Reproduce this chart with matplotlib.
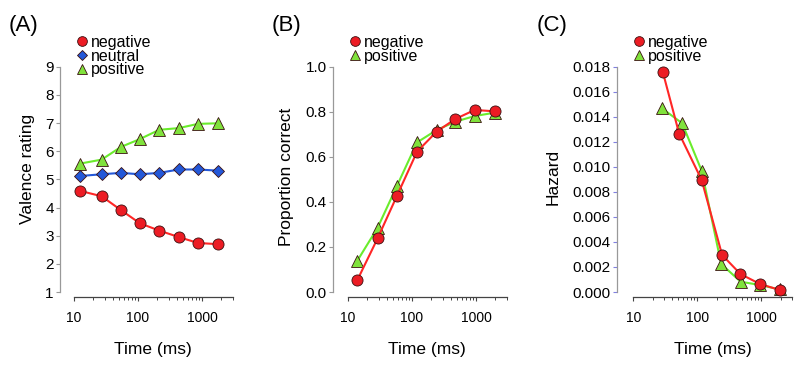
import matplotlib.pyplot as plt
import numpy as np
from matplotlib.lines import Line2D

plt.rcParams['font.family'] = ['Liberation Sans', 'DejaVu Sans']

W, H = 800, 366

red = '#ec1c24'
red_line = '#ff2626'
green = '#80e23c'
green_line = '#6aec2c'
blue = '#2458d8'
edge = '#3a1010'

# (A) valence rating
t_val = [12.5, 27, 54, 107, 215, 435, 865, 1750]
val_neg = [4.59, 4.40, 3.91, 3.44, 3.18, 2.95, 2.74, 2.70]
val_neu = [5.12, 5.18, 5.23, 5.18, 5.23, 5.35, 5.35, 5.31]
val_pos = [5.56, 5.70, 6.15, 6.43, 6.76, 6.82, 6.97, 6.99]

# (B) proportion correct
t_acc = [14, 29, 58, 120, 243, 475, 955, 1960]
acc_neg = [0.053, 0.238, 0.426, 0.623, 0.712, 0.768, 0.808, 0.802]
acc_pos = [0.139, 0.285, 0.470, 0.664, 0.719, 0.756, 0.781, 0.796]

# (C) hazard
t_haz_neg = [29, 52, 117, 244, 471, 955, 1940]
haz_neg = [0.01755, 0.01266, 0.00895, 0.00296, 0.00144, 0.00064, 0.00016]
t_haz_pos = [28, 58, 117, 236, 476, 955, 1940]
haz_pos = [0.01468, 0.01348, 0.00969, 0.00224, 0.00082, 0.00056, 0.0002]

x_major = [10, 100, 1000]
x_minor = [20, 30, 40, 50, 60, 70, 80, 90,
           200, 300, 400, 500, 600, 700, 800, 900, 2000, 3000]

fig = plt.figure(figsize=(W / 100, H / 100), dpi=100)


def panel(box, x10, ypx, yrange, yticks, yfmt, ylabel, ylab_xy, letter, letter_x, ytick_col):
    L, T, R, B = box
    ax = fig.add_axes([L / W, 1 - B / H, (R - L) / W, (B - T) / H])
    dec = 64.0
    ax.set_xscale('log')
    ax.set_xlim(10 ** (1 + (L - x10) / dec), 10 ** (1 + (R - x10) / dec))
    ylo, yhi = yrange
    sc = (ypx[0] - ypx[1]) / (yhi - ylo)
    ax.set_ylim(ylo - (B - ypx[0]) / sc, yhi + (ypx[1] - T) / sc)

    for s in ['top', 'right']:
        ax.spines[s].set_visible(False)
    ax.spines['left'].set_bounds(ylo, yhi)
    ax.spines['bottom'].set_bounds(10, 3000)
    ax.spines['left'].set_color('#999999')
    ax.spines['bottom'].set_color('#444444')
    ax.spines['left'].set_linewidth(0.9)
    ax.spines['bottom'].set_linewidth(0.9)

    ax.set_xticks(x_major)
    ax.set_xticklabels([str(v) for v in x_major])
    ax.set_xticks(x_minor, minor=True)
    ax.set_xticklabels([], minor=True)
    ax.tick_params(axis='x', which='major', length=3, width=0.8, color='#444444',
                   pad=7, labelsize=10)
    ax.tick_params(axis='x', which='minor', length=2, width=0.7, color='#444444')

    ax.set_yticks(yticks)
    ax.set_yticklabels([yfmt.format(v) for v in yticks])
    ax.tick_params(axis='y', length=3, width=0.8, color=ytick_col, pad=1.5, labelsize=11)

    ax.set_xlabel('Time (ms)', fontsize=12.5)
    xc = x10 + dec * (np.log10(3000) - 1) / 2
    ax.xaxis.set_label_coords((xc - L) / (R - L), -0.19)
    ax.set_ylabel(ylabel, fontsize=12.5)
    # label anchored at its right edge, so shift by half the text height
    ax.yaxis.set_label_coords((ylab_xy[0] + 8 - L) / (R - L), (B - ylab_xy[1]) / (B - T))
    fig.text(letter_x / W, 1 - 25 / H, letter, fontsize=16, va='center', ha='left')
    return ax


def legend(ax, x, labels, entries):
    handles = [Line2D([], [], marker=m, linestyle='none', color=c, markeredgecolor=edge,
                      markeredgewidth=0.6, markersize=ms) for m, c, ms in entries]
    ax.legend(handles, labels, loc='upper left', bbox_to_anchor=(x / W, 1 - 35 / H),
              bbox_transform=fig.transFigure, frameon=False, fontsize=11.5,
              handlelength=0.6, handletextpad=0.3, labelspacing=-0.08,
              borderpad=0, borderaxespad=0)


def series(ax, x, y, color, line, marker, ms):
    ax.plot(x, y, color=line, lw=1.5, marker=marker, markersize=ms,
            markerfacecolor=color, markeredgecolor=edge, markeredgewidth=0.6, clip_on=False)


# (A)
axA = panel((60, 62, 246, 297), 74, (292, 66.7), (1, 9), list(range(1, 10)), '{:d}',
            'Valence rating', (27, 169), '(A)', 9, '#999999')
series(axA, t_val, val_pos, green, green_line, '^', 8.5)
series(axA, t_val, val_neu, blue, blue, 'D', 6)
series(axA, t_val, val_neg, red, red_line, 'o', 8)
legend(axA, 77, ['negative', 'neutral', 'positive'],
       [('o', red, 7), ('D', blue, 5.5), ('^', green, 7)])

# (B)
axB = panel((333, 62, 521, 297), 348, (292, 66.7), (0, 1.0), [0.0, 0.2, 0.4, 0.6, 0.8, 1.0], '{:.1f}',
            'Proportion correct', (286, 177), '(B)', 272, '#999999')
series(axB, t_acc, acc_pos, green, green_line, '^', 8.5)
series(axB, t_acc, acc_neg, red, red_line, 'o', 8)
legend(axB, 350, ['negative', 'positive'], [('o', red, 7), ('^', green, 7)])

# (C)
axC = panel((617, 62, 799, 297), 633.3, (292, 66.7), (0, 0.018),
            [0.0, 0.002, 0.004, 0.006, 0.008, 0.010, 0.012, 0.014, 0.016, 0.018], '{:.3f}',
            'Hazard', (553, 177), '(C)', 537, '#8080e0')
series(axC, t_haz_pos, haz_pos, green, green_line, '^', 8.5)
series(axC, t_haz_neg, haz_neg, red, red_line, 'o', 8)
legend(axC, 634, ['negative', 'positive'], [('o', red, 7), ('^', green, 7)])

plt.savefig('out.png', dpi=100)
